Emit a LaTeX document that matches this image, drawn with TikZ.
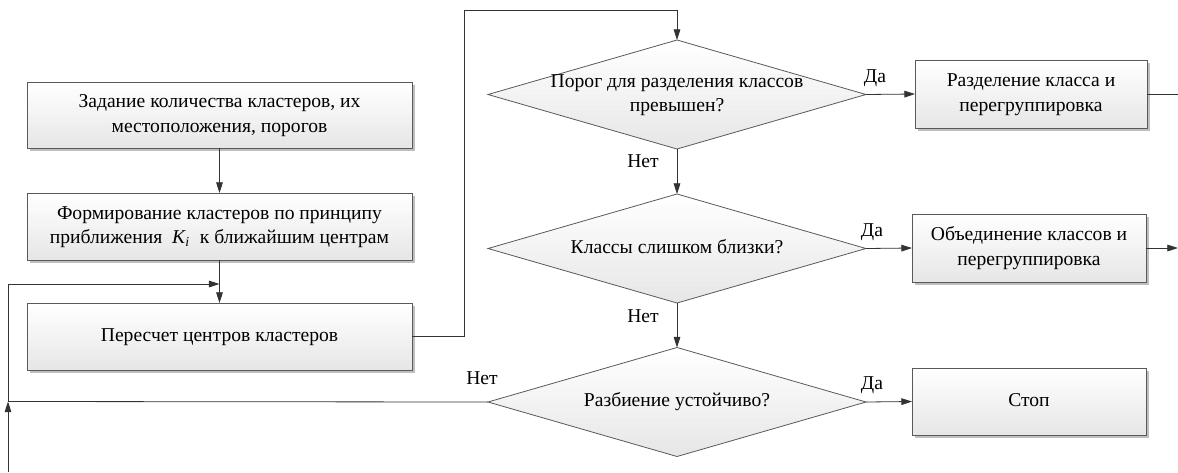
\documentclass[tikz,border=0pt]{standalone}
\usepackage{fontspec}
\usepackage{graphicx}
\setmainfont{Liberation Serif}
\usetikzlibrary{shapes.geometric,arrows.meta,calc,backgrounds}
\newcommand{\mytx}[1]{\scalebox{1.47}{\renewcommand{\arraystretch}{1.06}\begin{tabular}{@{}c@{}}#1\end{tabular}}}
\begin{document}
\begin{tikzpicture}[x=0.75pt,y=-0.75pt,
  grad/.style={path picture={
    \foreach \k [evaluate=\k as \cc using 0.5*\k] in {0,...,19}{
      \fill[black!\cc] ($(path picture bounding box.north west)!\k/20!(path picture bounding box.south west)$)
        rectangle ($(path picture bounding box.north east)!{(\k+1.1)/20}!(path picture bounding box.south east)$);}}},
  box/.style={draw=black!65, line width=0.6pt, grad, align=center, inner sep=0pt, outer sep=0pt},
  shd/.style={fill=black!25},
  dia/.style={diamond, draw=black!65, line width=0.6pt, grad,
    inner sep=0pt, outer sep=0pt, minimum width=283.5pt, minimum height=81.75pt},
  ln/.style={draw=black!80, line width=0.6pt},
  arr/.style={ln, -{Triangle[length=8pt,width=5pt]}},
  lbl/.style={inner sep=0pt, align=center}]
\useasboundingbox (0,0) rectangle (1178,472);

% left column boxes
\node[box, minimum width=288.75pt, minimum height=49.5pt] (b1) at (219.5,115)
  {\mytx{Задание количества кластеров, их\\местоположения, порогов}};
\node[box, minimum width=288.75pt, minimum height=50.25pt] (b2) at (219.5,226.5)
  {\mytx{Формирование кластеров по принципу\\приближения\ \ {\itshape K\textsubscript{i}}\ \ к ближайшим центрам}};
\node[box, minimum width=288.75pt, minimum height=50.25pt] (b3) at (219.5,336.5)
  {\mytx{Пересчет центров кластеров}};

% diamonds
\node[dia] (d1) at (677,94.5) {};
\node[lbl] (t1) at (d1) {\mytx{Порог для разделения классов\\превышен?}};
\node[dia] (d2) at (677,248.5) {};
\node[lbl] (t2) at (d2) {\mytx{Классы слишком близки?}};
\node[dia] (d3) at (677,402) {};
\node[lbl] (t3) at (d3) {\mytx{Разбиение устойчиво?}};

% right boxes
\node[box, minimum width=174pt, minimum height=51pt] (b4) at (1031,94)
  {\mytx{Разделение класса и\\перегруппировка}};
\node[box, minimum width=175.5pt, minimum height=51pt] (b5) at (1029,248)
  {\mytx{Объединение классов и\\перегруппировка}};
\node[box, minimum width=175.5pt, minimum height=50.25pt] (b6) at (1029,401.5)
  {\mytx{Стоп}};

% shadows behind boxes
\begin{pgfonlayer}{background}
\foreach \b in {b1,b2,b3,b4,b5,b6}
  \fill[shd] ($(\b.north east)+(3,3)$) rectangle ($(\b.south west)+(3,3)$);
\end{pgfonlayer}

% helper coordinates
\coordinate (c1) at (464,10);
\coordinate (j) at (8,401.5);
\coordinate (bl) at (8,472);
\coordinate (lp) at (219.5,284);
\coordinate (e1) at (1178,94);
\coordinate (e2) at (1178,248);

% connectors
\draw[arr] (b1) -- (b2);
\draw[arr] (b2) -- (b3);
\draw[arr] (b3.east) -| (c1) -| (d1.north);
\draw[arr] (d1) -- (d2);
\draw[arr] (d2) -- (d3);
\draw[arr] (d1.east) -- (b4.west);
\draw[arr] (d2.east) -- (b5.west);
\draw[arr] (d3.east) -- (b6.west);
\draw[ln] (b4.east) -- (e1);
\draw[arr] (b5.east) -- (e2);
\draw[ln] (d3.west) -- (j);
\draw[arr] (bl) -- (j);
\draw[arr] (j) |- (lp);

% labels
\node[lbl] (l1) at (875,78) {\mytx{Да}};
\node[lbl] (l2) at (872,232) {\mytx{Да}};
\node[lbl] (l3) at (872,385) {\mytx{Да}};
\node[lbl] (l4) at (643,163) {\mytx{Нет}};
\node[lbl] (l5) at (643,318) {\mytx{Нет}};
\node[lbl] (l6) at (482,380) {\mytx{Нет}};
\end{tikzpicture}
\end{document}
